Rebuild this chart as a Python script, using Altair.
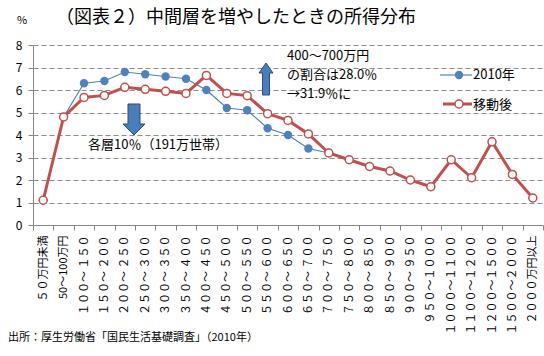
import altair as alt
import pandas as pd

# ---- data ----
categories = [
    "５０万円未満", "50～100万円",
    "１００～ １５０", "１５０～ ２００", "２００～ ２５０", "２５０～ ３００",
    "３００～ ３５０", "３５０～ ４００", "４００～ ４５０", "４５０～ ５００",
    "５００～ ５５０", "５５０～ ６００", "６００～ ６５０", "６５０～ ７００",
    "７００～ ７５０", "７５０～ ８００", "８００～ ８５０", "８５０～ ９００",
    "９００～ ９５０", "９５０～１０００", "１０００～１１００", "１１００～１２００",
    "１２００～１５００", "１５００～２０００", "２０００万円以上",
]
values_2010 = [1.1, 4.8, 6.3, 6.4, 6.8, 6.7, 6.6, 6.5, 6.0, 5.2, 5.1, 4.3, 4.0,
               3.4, 3.2, 2.9, 2.6, 2.4, 2.0, 1.7, 2.9, 2.1, 3.7, 2.25, 1.2]
values_after = [1.1, 4.8, 5.67, 5.76, 6.12, 6.03, 5.94, 5.85, 6.65, 5.85, 5.75,
                4.95, 4.65, 4.05, 3.2, 2.9, 2.6, 2.4, 2.0, 1.7, 2.9, 2.1, 3.7, 2.25, 1.2]
series_names = ["2010年", "移動後"]
y_ticks = [0, 1, 2, 3, 4, 5, 6, 7, 8]

title_text = "（図表２）中間層を増やしたときの所得分布"
unit_text = "%"
source_text = "出所：厚生労働省「国民生活基礎調査」（2010年）"
note_down = "各層10％（191万世帯）"
note_up = ["400～700万円", "の割合は28.0％", "→31.9％に"]

FONT = "Noto Sans CJK JP"
BLUE = "#4F81BD"
RED = "#C0504D"
GRAY = "#868686"

df = pd.DataFrame({
    "cat": categories * 2,
    "value": values_2010 + values_after,
    "series": [series_names[0]] * len(categories) + [series_names[1]] * len(categories),
})

x_enc = alt.X(
    "cat:N", sort=categories,
    scale=alt.Scale(type="band", paddingInner=0, paddingOuter=0),
    axis=alt.Axis(title=None, labelAngle=-90, tickBand="extent", grid=False,
                  domainColor=GRAY, tickColor=GRAY, tickSize=5,
                  labelFont=FONT, labelFontSize=11, labelColor="black",
                  labelPadding=5, labelOverlap=False),
)
y_enc = alt.Y(
    "value:Q",
    scale=alt.Scale(domain=[0, 8], nice=False),
    axis=alt.Axis(title=None, values=y_ticks, grid=True, gridDash=[5, 3],
                  gridColor="#8c8c8c", domainColor=GRAY, tickColor=GRAY, tickSize=5,
                  labelFont=FONT, labelFontSize=12, labelColor="black", labelPadding=6),
)

base = alt.Chart(df).encode(x=x_enc, y=y_enc)
blue = base.transform_filter(alt.datum.series == series_names[0])
red = base.transform_filter(alt.datum.series == series_names[1])

blue_line = blue.mark_line(color=BLUE, strokeWidth=1.2)
blue_pts = blue.mark_point(filled=True, color=BLUE, size=70, opacity=1)
red_line = red.mark_line(color=RED, strokeWidth=3)
red_pts = red.mark_point(filled=True, fill="white", stroke=RED, strokeWidth=1.5,
                         size=64, opacity=1)

one = pd.DataFrame({"k": [0]})


def text_layer(txt, x, y, size, align="left"):
    return alt.Chart(one).mark_text(
        text=txt, font=FONT, fontSize=size, color="black", align=align,
        baseline="middle",
    ).encode(x=alt.value(x), y=alt.value(y))


down_path = ("M-0.387,-1 L0.387,-1 L0.387,0.29 L0.71,0.29 L0,1 "
             "L-0.71,0.29 L-0.387,0.29 Z")
up_path = ("M0,-1 L0.4375,-0.375 L0.22,-0.375 L0.22,1 L-0.22,1 "
           "L-0.22,-0.375 L-0.4375,-0.375 Z")

arrow_down = alt.Chart(one).mark_point(
    shape=down_path, size=961, filled=True, fill="#4A7EBB", stroke="#2C4D75",
    strokeWidth=1, opacity=1,
).encode(x=alt.value(101), y=alt.value(74.5))
arrow_up = alt.Chart(one).mark_point(
    shape=up_path, size=1024, filled=True, fill="#4A7EBB", stroke="#2C4D75",
    strokeWidth=1, opacity=1,
).encode(x=alt.value(233), y=alt.value(34))

# manual legend
leg_blue_line = alt.Chart(one).mark_rule(color=BLUE, strokeWidth=1.2).encode(
    x=alt.value(407), x2=alt.value(439), y=alt.value(30))
leg_blue_pt = alt.Chart(one).mark_point(filled=True, color=BLUE, size=70, opacity=1).encode(
    x=alt.value(426), y=alt.value(30))
leg_red_line = alt.Chart(one).mark_rule(color=RED, strokeWidth=3).encode(
    x=alt.value(410), x2=alt.value(439), y=alt.value(59))
leg_red_pt = alt.Chart(one).mark_point(filled=True, fill="white", stroke=RED,
                                       strokeWidth=1.5, size=64, opacity=1).encode(
    x=alt.value(426), y=alt.value(59))

layers = [
    blue_line, blue_pts, red_line, red_pts,
    arrow_down, arrow_up,
    text_layer(title_text, 23, -27, 18),
    text_layer(unit_text, -16, -24, 11),
    text_layer(source_text, -25, 293, 11),
    text_layer(note_down, 55, 100, 13),
    text_layer(note_up[0], 254, 11, 13),
    text_layer(note_up[1], 254, 30, 13),
    text_layer(note_up[2], 254, 49, 13),
    leg_blue_line, leg_blue_pt, leg_red_line, leg_red_pt,
    text_layer(series_names[0], 440, 30, 13),
    text_layer(series_names[1], 440, 60, 13),
]

chart = alt.layer(*layers).properties(
    width=510, height=180,
    autosize=alt.AutoSizeParams(type="none"),
    padding={"left": 33, "top": 45, "right": 1, "bottom": 131},
    background="white",
).configure_view(strokeWidth=0)

chart.save("out.html", embed_options={"renderer": "svg", "actions": False})
